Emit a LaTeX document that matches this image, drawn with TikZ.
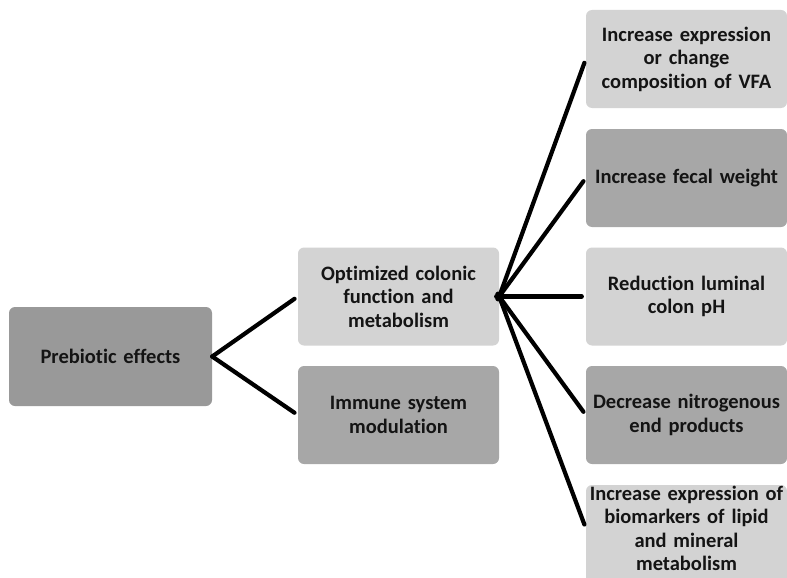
\documentclass[tikz,border=0pt]{standalone}
\usepackage{fontspec}
\setmainfont{Carlito}[Ligatures=NoCommon]
\definecolor{boxlight}{HTML}{D3D3D3}
\definecolor{boxmid}{HTML}{A7A7A7}
\definecolor{boxdark}{HTML}{999999}
\definecolor{ink}{HTML}{141414}
\begin{document}
\begin{tikzpicture}[x=1pt,y=-1pt,
  label text/.style={inner sep=0pt, align=center, text width=199pt, text=ink,
    font=\fontsize{20.5}{23.5}\selectfont\bfseries},
  card/.style={label text, rounded corners=6pt, minimum width=201pt, minimum height=98pt},
  link/.style={line width=4.2pt, line cap=round, black}]
\useasboundingbox (0,0) rectangle (787,578);
\clip (0,0) rectangle (787,578);

% root
\node[card, fill=boxdark, minimum width=203pt, minimum height=99pt] (pre) at (110.5,356.5) {Prebiotic effects};

% middle level
\node[card, fill=boxlight] (opt) at (398.5,296.5) {Optimized colonic\\function and\\metabolism};
\node[card, fill=boxmid] (imm) at (398.5,415) {Immune system\\modulation};

% outcomes of colonic function
\node[card, fill=boxlight] (r1) at (686.5,59) {Increase expression\\or change\\composition of VFA};
\node[card, fill=boxmid] (r2) at (686.5,178) {Increase fecal weight};
\node[card, fill=boxlight] (r3) at (686.5,296.5) {Reduction luminal\\colon pH};
\node[card, fill=boxmid] (r4) at (686.5,415) {Decrease nitrogenous\\end products};
% last box runs past the lower edge; its text sits just above that edge
\node[card, fill=boxlight, minimum height=100pt] (r5) at (686.5,535) {};
\node[label text, anchor=south] (r5text) at (686.5,571)
  {Increase expression of\\biomarkers of lipid\\and mineral\\metabolism};

% connectors
\draw[link, shorten >=4pt] (pre.east) -- (opt.west);
\draw[link, shorten >=4pt] (pre.east) -- (imm.west);
\foreach \t in {r1,r2,r3,r4}
  \draw[link, shorten <=-3pt, shorten >=4pt] (opt.east) -- (\t.west);
\draw[link, shorten <=-3pt, shorten >=4pt] (opt.east) -- (r5.west |- r5text.center);
\end{tikzpicture}
\end{document}
